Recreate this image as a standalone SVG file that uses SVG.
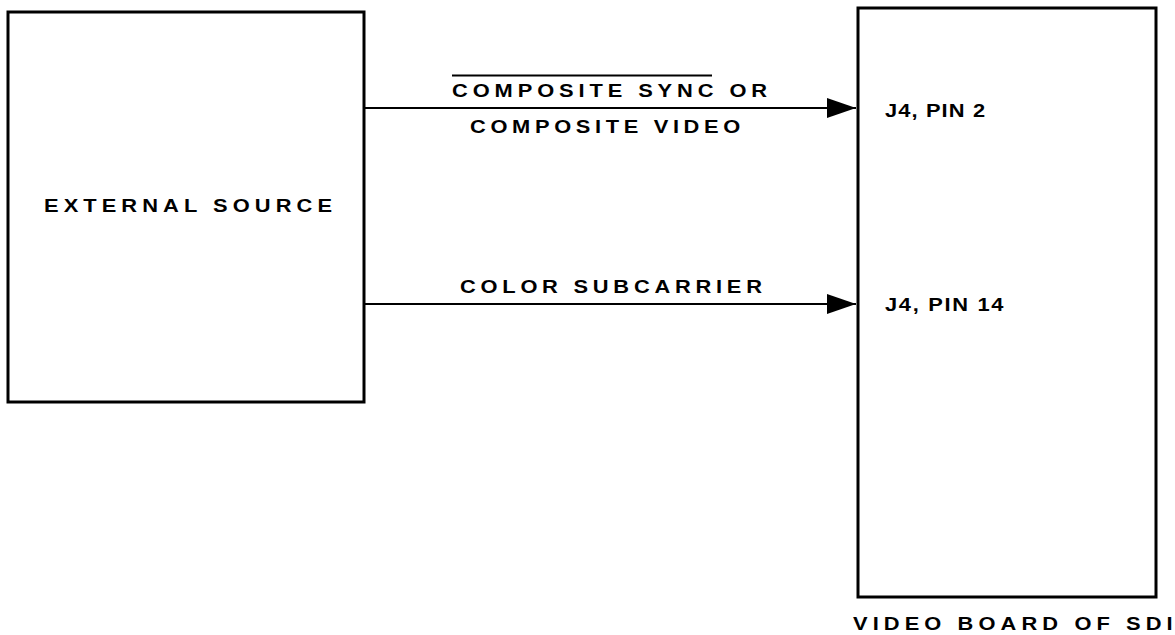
<svg xmlns="http://www.w3.org/2000/svg" width="1175" height="635" viewBox="0 0 1175 635">
<style>
.box{fill:#fff;stroke:#000;stroke-width:3}
.lbl{font-family:"Liberation Sans",Arial,sans-serif;font-weight:bold;font-size:19px;fill:#000}
.wire{stroke:#000;stroke-width:2;fill:none}
</style>
<defs>
<marker id="arr" markerWidth="30" markerHeight="20" refX="29" refY="10" orient="auto" markerUnits="userSpaceOnUse">
<path d="M0,0 L29,10 L0,20 Z" fill="#000"/>
</marker>
</defs>
<rect width="1175" height="635" fill="#fff"/>
<g id="external-source">
<rect class="box" x="8" y="12" width="356" height="390"/>
<text class="lbl" transform="translate(44,212) scale(1.15,1)" textLength="250.4" lengthAdjust="spacing">EXTERNAL SOURCE</text>
</g>
<g id="video-board">
<rect class="box" x="858" y="8" width="298" height="589"/>
<text class="lbl" transform="translate(885,117) scale(1.15,1)" textLength="87" lengthAdjust="spacing">J4, PIN 2</text>
<text class="lbl" transform="translate(885,311) scale(1.15,1)" textLength="103" lengthAdjust="spacing">J4, PIN 14</text>
<text class="lbl" transform="translate(853,630) scale(1.15,1)" textLength="278" lengthAdjust="spacing">VIDEO BOARD OF SDI</text>
</g>
<g id="connectors">
<line class="wire" x1="364" y1="108" x2="856" y2="108" marker-end="url(#arr)"/>
<line class="wire" x1="364" y1="304" x2="856" y2="304" marker-end="url(#arr)"/>
<text class="lbl" transform="translate(452,97) scale(1.15,1)" textLength="274" lengthAdjust="spacing">COMPOSITE SYNC OR</text>
<line x1="452" y1="75.5" x2="712" y2="75.5" stroke="#000" stroke-width="2"/>
<text class="lbl" transform="translate(470,133) scale(1.15,1)" textLength="235" lengthAdjust="spacing">COMPOSITE VIDEO</text>
<text class="lbl" transform="translate(460,293) scale(1.15,1)" textLength="262.6" lengthAdjust="spacing">COLOR SUBCARRIER</text>
</g>
</svg>
